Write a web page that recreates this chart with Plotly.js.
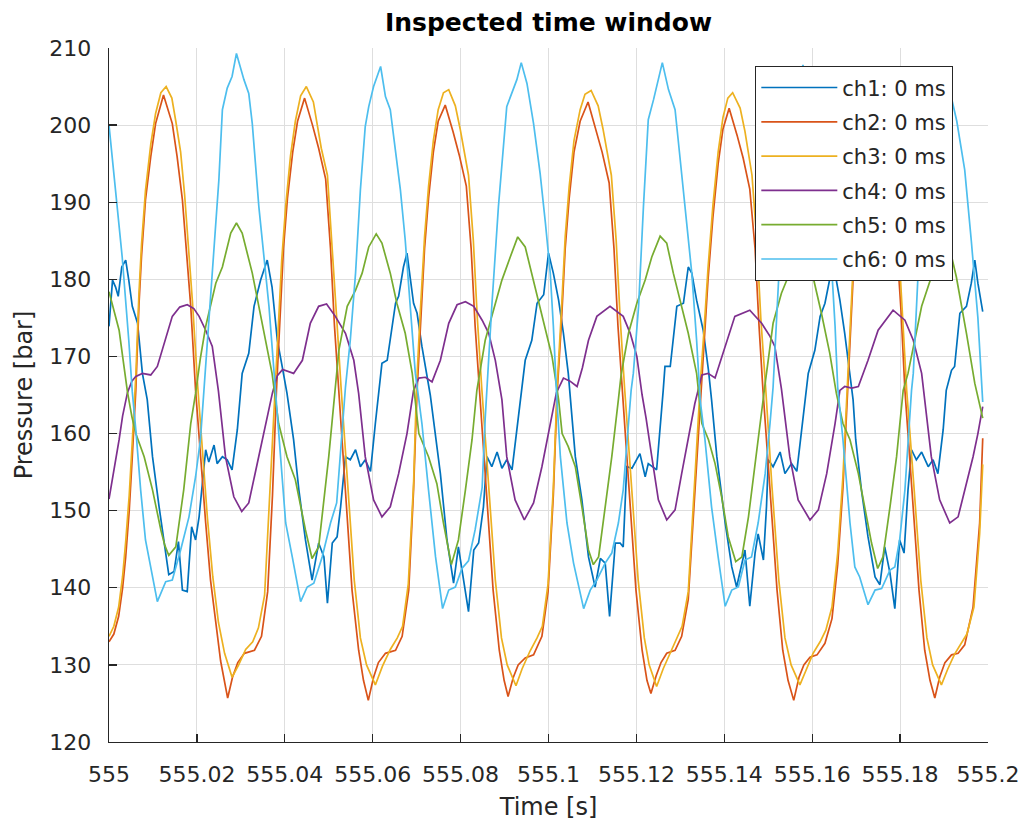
<!DOCTYPE html>
<html>
<head>
<meta charset="utf-8">
<script src="https://cdn.plot.ly/plotly-3.0.1.min.js"></script>
<style>html,body{margin:0;padding:0;background:#fff;} #chart{width:1029px;height:827px;}</style>
</head>
<body>
<div id="chart"></div>
<script>
// time axis origin (s); series times are given in ms after this origin
const T0 = 555;
const xTickVals = [555, 555.02, 555.04, 555.06, 555.08, 555.1, 555.12, 555.14, 555.16, 555.18, 555.2];
const xTickText = ['555', '555.02', '555.04', '555.06', '555.08', '555.1', '555.12', '555.14', '555.16', '555.18', '555.2'];
const yTickVals = [120, 130, 140, 150, 160, 170, 180, 190, 200, 210];
const seriesNames = ['ch1: 0 ms', 'ch2: 0 ms', 'ch3: 0 ms', 'ch4: 0 ms', 'ch5: 0 ms', 'ch6: 0 ms'];

const ch1_t = [0,0.8,1.5,2.1,2.9,3.8,4.5,5.3,6.5,7.6,8.7,9.9,11.4,12.9,13.6,14.8,15.8,16.7,17.8,18.8,19.7,20.5,21.2,22.0,22.7,23.9,24.6,25.8,26.9,28.0,29.2,29.9,30.3,31.8,33.0,34.5,36.0,37.1,38.3,39.4,40.5,42.0,43.2,44.7,46.2,47.7,48.9,49.7,50.8,51.9,52.7,53.8,54.9,56.1,57.2,58.3,59.5,60.6,61.4,62.1,63.3,64.0,65.2,65.9,67.0,67.8,68.6,69.3,70.1,71.2,73.1,75.4,76.9,78.4,79.5,80.7,81.8,83.0,84.1,85.2,86.0,87.1,88.3,89.4,90.5,91.7,92.8,94.0,94.7,96.2,97.4,98.9,100.0,101.1,102.3,103.4,104.5,106.1,107.6,109.1,110.6,111.8,112.9,113.9,115.2,116.3,117.0,117.8,119.0,120.8,122.0,122.7,124.6,126.1,126.5,127.7,129.2,130.7,131.8,132.6,133.7,135.2,136.4,137.1,138.3,140.2,141.7,142.8,144.0,144.7,145.8,147.0,147.7,148.9,149.6,150.0,151.1,152.7,153.8,155.3,156.5,157.6,158.7,159.1,160.6,161.8,162.9,164.4,165.2,166.3,167.4,168.6,169.3,169.9,171.2,172.7,174.3,175.4,176.5,177.7,178.8,179.9,180.9,181.8,182.6,183.7,184.9,186.4,187.5,188.6,189.8,190.5,191.7,192.4,193.6,195.1,196.2,197.0,197.7,198.8];
const ch1_p = [173.9,179.9,179.0,177.8,181.6,182.5,179.9,176.5,174.3,167.8,164.4,157.0,150.5,144.9,141.7,142.1,146.0,139.7,139.5,147.9,146.2,149.2,153.5,157.9,156.3,158.5,156.1,157.0,156.6,155.3,160.5,165.6,167.8,170.4,176.5,179.9,182.5,179.0,172.1,168.7,165.2,159.2,152.7,146.2,141.0,145.8,144.0,138.0,145.8,146.6,150.5,157.0,156.6,157.9,155.7,156.6,155.1,161.3,165.6,169.1,169.5,172.1,176.9,177.8,181.6,183.4,179.9,176.9,175.6,171.3,165.0,154.8,146.2,140.6,145.3,141.0,136.9,144.9,145.8,150.5,157.0,155.7,157.6,155.5,156.6,155.3,160.5,165.6,169.5,172.1,176.9,178.0,183.4,180.8,177.3,173.0,167.8,157.0,151.4,144.0,140.1,143.8,143.2,136.3,145.8,145.8,145.3,155.7,155.5,157.4,154.4,156.1,155.3,165.6,168.7,168.7,176.5,176.9,181.6,180.8,177.3,173.4,168.2,164.4,157.0,148.4,142.7,140.1,143.2,144.9,137.6,144.5,147.0,143.6,150.5,156.6,155.7,157.6,154.8,156.1,155.1,160.5,165.6,167.8,170.8,175.2,176.9,181.2,180.8,177.3,173.0,167.8,164.4,159.2,152.7,146.6,141.4,140.4,145.3,141.9,137.3,146.2,144.5,152.7,157.9,156.6,157.6,155.7,156.6,154.8,160.5,165.6,168.2,168.7,175.6,176.5,179.5,182.5,179.5,175.8];

const ch2_t = [0,1.1,2.2,3.1,3.8,4.6,5.3,6.1,6.8,7.4,8.3,9.5,10.6,12.4,14.4,15.5,16.7,18.6,19.7,20.8,22.0,23.1,24.3,25.4,27.0,28.1,29.3,30.8,33.1,34.7,36.1,37.2,38.1,38.8,39.7,40.6,41.8,42.9,44.5,46.3,47.7,49.3,50.4,51.3,52.3,53.8,55.3,56.8,57.9,59.0,60.2,61.3,62.9,65.2,66.7,68.2,69.3,70.1,70.8,71.8,72.7,73.8,74.9,76.5,78.3,79.7,81.3,82.4,83.3,84.3,85.8,87.4,88.8,89.9,90.8,92.0,93.1,94.7,96.6,98.5,99.9,101.1,102.0,102.9,103.8,104.7,105.8,107.2,109.0,110.8,112.2,113.8,114.9,115.8,116.8,118.3,119.9,121.3,122.4,123.3,124.5,125.6,126.9,128.8,130.3,131.8,132.7,133.6,134.7,135.4,136.3,137.4,138.6,139.7,141.1,142.9,144.3,145.8,147.0,147.9,148.8,150.4,152.0,153.3,154.5,155.8,157.0,158.1,159.5,161.1,162.9,164.5,165.8,167.0,167.9,168.6,169.3,170.2,171.3,172.2,173.6,175.4,176.8,178.3,179.3,180.2,181.1,182.7,184.3,185.6,186.8,187.9,189.0,190.2,191.7,193.2,194.7,196.6,198.1,198.8];
const ch2_p = [133.0,134.0,136.3,140.0,144.0,150.0,157.0,165.6,176.5,183.0,190.3,195.9,200.2,203.9,200.2,195.9,190.3,176.5,165.6,157.0,148.4,141.0,135.4,130.5,125.7,128.4,130.3,131.5,131.9,133.7,139.5,152.0,165.6,174.0,184.0,190.5,196.5,200.5,203.5,200.0,197.0,193.0,184.0,174.0,165.6,152.7,139.7,131.9,128.0,125.4,128.4,130.3,131.5,131.9,133.7,139.7,152.7,165.6,174.0,184.0,190.5,196.5,200.5,202.6,199.1,196.1,192.1,184.0,174.0,165.6,152.7,139.7,131.9,128.0,125.9,128.4,130.0,130.9,131.3,133.7,139.5,152.0,165.6,174.0,184.0,190.5,196.5,200.5,203.0,199.5,196.5,192.5,184.0,174.0,165.6,152.7,139.7,131.9,128.0,126.3,128.6,130.3,131.5,131.9,133.7,138.5,147.0,156.0,165.6,172.0,180.0,188.0,195.0,199.5,202.2,198.7,195.7,191.7,184.0,174.0,165.6,152.7,139.7,131.9,128.0,125.4,128.4,130.0,131.0,131.3,132.8,136.0,143.0,153.0,163.0,172.0,180.0,188.0,195.0,199.5,202.5,199.5,196.0,192.0,184.0,176.0,165.6,152.7,139.7,131.9,128.0,125.7,128.4,130.3,131.3,131.5,132.6,137.5,148.4,159.4];

const ch3_t = [0,1.1,2.2,3.1,3.8,4.6,5.3,6.1,6.8,7.4,8.3,9.5,10.6,11.8,13.0,14.3,15.2,16.3,17.2,19.0,20.2,21.3,22.4,23.6,24.9,26.3,28.0,29.5,31.1,32.7,34.0,35.4,36.5,37.7,38.3,39.3,40.2,41.3,42.4,43.6,44.9,46.5,47.4,48.3,49.7,50.8,51.8,52.8,54.3,55.8,57.2,58.6,60.6,62.2,64.0,65.6,66.8,68.1,69.3,70.0,70.8,71.8,72.7,73.8,74.9,76.1,77.3,78.8,79.9,81.8,82.9,83.8,84.8,86.3,87.9,89.3,90.6,92.6,94.0,95.8,97.4,98.6,99.9,101.1,102.0,102.9,103.8,104.7,105.8,107.2,108.3,109.7,111.3,112.4,114.3,115.4,116.3,117.3,118.8,120.4,121.8,122.9,124.6,126.1,127.9,129.3,130.4,131.8,132.7,133.6,134.6,135.4,136.3,137.4,138.6,139.7,140.8,141.9,143.6,144.7,146.3,147.4,148.3,149.4,150.8,152.4,153.8,155.2,157.2,158.6,160.2,161.8,163.1,164.5,165.8,167.0,167.9,168.6,169.3,170.2,171.3,172.2,173.1,174.3,175.8,177.2,178.6,179.7,180.6,181.5,183.1,184.7,186.1,187.4,189.4,190.8,192.4,194.0,195.2,196.8,198.1,198.8];
const ch3_p = [133.7,135.0,137.5,141.5,146.0,152.0,159.0,167.5,178.0,184.5,191.5,197.5,201.5,204.2,205.0,203.5,200.5,196.5,191.0,177.0,166.0,157.5,149.0,141.5,135.5,131.5,128.4,130.0,132.0,133.0,134.8,139.0,151.0,164.0,172.0,182.5,189.5,196.0,200.5,203.8,205.0,203.0,200.0,197.0,193.5,184.5,175.0,166.0,153.5,141.0,133.5,130.0,127.4,129.8,132.0,133.5,135.0,140.5,153.5,166.5,175.5,185.5,192.0,198.0,202.0,204.2,204.6,202.5,199.5,193.5,185.0,175.0,166.0,153.5,141.0,133.5,130.0,127.3,129.5,131.8,133.5,135.0,140.5,153.0,166.5,175.5,185.5,192.0,198.0,202.0,204.0,204.5,202.5,199.5,193.5,185.0,175.0,166.0,153.5,141.0,133.5,130.0,127.2,129.5,131.8,133.5,135.0,139.5,148.5,157.5,167.0,173.5,181.5,189.5,196.5,201.0,203.5,204.2,202.2,199.2,193.5,185.0,175.0,166.0,153.5,141.0,133.5,130.0,127.4,129.3,131.5,133.0,134.5,137.5,144.5,154.5,164.5,173.5,181.5,189.5,196.5,200.5,203.0,204.0,202.0,198.5,192.5,184.0,175.0,165.6,153.5,141.0,133.5,130.0,127.4,129.4,131.4,132.8,134.0,137.5,147.0,156.0];

const ch4_t = [0,1.1,2.3,3.1,4.2,5.2,6.1,7.6,9.5,11.0,12.5,14.4,16.1,17.8,19.3,20.5,22.0,23.5,24.9,26.5,28.4,30.2,31.8,34.1,36.0,37.2,38.3,39.5,42.0,44.0,45.8,47.7,49.5,51.5,53.8,55.7,56.8,58.3,60.2,62.1,64.0,65.9,67.8,69.3,70.5,72.0,73.5,75.4,77.3,79.2,81.1,83.0,84.9,86.4,87.9,89.4,90.5,92.4,94.5,96.6,98.5,100.4,101.8,103.4,104.9,106.5,107.7,109.1,111.0,114.0,117.0,118.6,120.1,121.3,122.2,123.5,125.0,126.9,128.8,130.3,131.8,133.3,134.9,136.3,137.9,140.2,142.4,145.8,148.5,150.4,151.5,153.0,154.9,156.8,159.5,161.4,163.3,165.2,166.3,167.4,169.0,170.5,172.7,175.0,178.4,181.1,183.0,184.9,185.6,187.1,189.0,191.3,193.2,195.1,196.6,197.7,198.8];
const ch4_p = [151.5,155.0,159.2,162.3,165.3,166.8,167.4,167.8,167.6,168.7,171.7,175.2,176.4,176.7,176.2,175.2,173.4,171.3,165.5,157.0,151.8,149.9,151.0,157.0,162.2,165.3,167.5,168.3,167.8,169.5,174.3,176.5,176.8,175.2,173.0,169.5,165.2,157.0,151.4,149.2,150.5,154.8,160.0,165.6,167.2,167.3,166.7,169.5,174.3,176.7,177.1,176.5,174.7,173.0,169.5,164.4,157.0,151.4,148.8,151.0,155.7,161.3,165.3,167.2,166.8,166.1,168.5,172.1,175.2,176.5,175.2,173.0,170.0,165.0,162.0,157.0,151.4,148.8,150.1,154.8,159.2,163.9,167.6,167.8,167.2,171.3,175.2,176.0,174.3,172.6,171.3,165.8,157.0,151.4,148.8,150.1,154.8,161.3,165.6,166.1,165.9,166.1,169.5,173.4,176.0,174.7,172.1,167.8,164.4,157.0,151.4,148.4,149.2,153.5,157.0,160.0,163.5];

const ch5_t = [0,1.1,2.3,3.1,4.2,5.2,6.1,8.0,9.9,11.8,12.7,13.6,15.2,17.0,18.6,19.7,20.8,22.0,24.3,25.8,27.7,29.0,30.3,32.6,34.9,37.1,38.6,40.5,42.4,44.7,46.2,47.7,50.0,51.1,52.3,54.2,56.1,57.6,59.1,60.8,62.1,64.0,65.5,67.4,69.0,70.5,72.7,74.6,76.1,77.9,79.5,81.1,82.6,83.7,85.6,87.1,89.4,91.3,93.0,94.7,96.2,98.1,100.0,100.8,102.3,103.1,104.5,106.1,107.6,109.1,110.2,111.4,112.9,114.4,115.9,116.5,118.2,120.1,122.0,123.5,125.4,126.9,128.4,129.9,131.8,133.7,134.9,136.4,137.9,139.4,140.9,142.6,144.0,145.5,147.0,148.5,149.3,151.1,153.0,154.5,156.1,157.7,159.0,160.2,162.1,164.0,165.5,167.0,168.6,170.5,172.0,173.5,174.9,176.1,177.7,179.2,180.7,181.8,184.9,187.1,188.6,189.9,191.3,192.8,195.1,197.0,198.8];
const ch5_p = [178.4,176.0,173.4,170.0,165.4,162.2,160.0,157.0,152.7,147.5,145.5,144.2,145.3,152.7,161.3,165.2,169.8,173.9,179.5,181.6,186.0,187.3,186.0,180.8,174.3,167.8,161.3,157.0,154.0,147.5,143.8,145.3,157.0,164.0,170.8,176.5,178.6,180.8,184.2,185.9,184.7,180.8,176.9,173.0,167.8,160.0,157.0,153.5,148.4,143.0,146.2,152.7,159.2,165.6,172.1,175.2,179.9,182.9,185.5,184.2,180.8,176.5,172.1,170.0,164.4,160.0,158.3,155.7,150.5,144.9,143.0,144.0,150.5,157.0,164.4,167.5,173.0,176.9,179.9,182.9,185.6,184.7,180.8,177.3,173.0,167.8,161.3,159.2,156.1,151.8,146.6,143.4,144.0,149.2,156.1,163.5,166.5,174.3,178.2,180.3,183.5,185.5,184.0,180.3,175.6,170.4,165.2,161.3,159.2,154.8,150.5,145.8,142.5,144.0,150.5,157.0,165.6,167.8,176.5,180.3,183.5,185.4,184.0,180.3,173.0,166.5,162.0];

const ch6_t = [0,1.5,3.0,4.5,5.3,6.1,7.2,8.3,9.9,11.0,12.9,14.4,16.3,18.2,19.7,20.8,21.6,23.5,25.0,25.8,26.9,28.0,29.0,30.7,31.8,32.6,34.1,36.4,37.9,38.6,40.2,41.7,43.6,45.1,46.6,48.5,50.4,51.8,52.9,53.8,54.9,56.1,57.2,58.3,59.1,60.2,61.8,62.9,64.0,65.2,66.3,67.4,68.6,69.7,70.5,71.2,72.7,74.3,75.9,77.3,78.8,80.3,81.8,83.3,84.9,85.6,87.1,88.6,90.5,91.7,92.8,93.8,95.1,96.6,98.1,99.3,100.4,101.1,101.9,102.7,104.2,105.7,108.0,109.5,111.0,112.9,114.4,115.9,117.0,118.2,118.8,119.3,120.5,121.6,122.7,123.9,125.0,125.9,127.3,128.8,129.9,131.1,132.6,133.7,134.5,135.6,137.1,138.6,140.2,141.7,143.2,144.7,146.2,147.7,149.3,150.4,151.1,152.0,153.1,154.5,155.6,156.8,157.9,159.3,160.6,162.2,163.3,164.5,165.2,165.8,167.0,168.6,169.7,170.8,172.7,174.3,175.8,177.7,178.8,179.9,181.1,181.8,182.6,183.0,184.1,185.2,186.5,187.7,188.8,190.2,191.5,192.9,194.7,196.2,197.7,198.8];
const ch6_p = [200.0,191.6,182.9,172.1,165.4,160.5,152.7,146.2,141.4,138.2,140.8,141.0,144.9,149.2,154.4,159.2,165.6,180.8,192.9,202.0,204.8,206.3,209.3,205.9,204.1,200.2,189.4,176.5,165.2,159.2,148.4,144.0,138.2,140.1,140.6,144.0,148.4,151.0,160.0,166.0,172.1,180.8,191.6,199.8,202.4,205.0,207.6,203.7,202.0,196.8,191.6,185.1,176.5,167.8,164.4,161.3,152.7,144.0,137.3,139.7,140.1,142.5,143.5,147.5,153.0,162.0,176.5,189.4,202.4,204.1,205.9,208.1,205.4,200.2,193.7,187.3,180.8,174.0,164.4,157.0,148.4,143.2,137.3,139.7,141.0,143.2,144.5,148.4,152.7,161.3,165.6,167.8,176.5,189.4,200.7,203.3,205.9,208.1,204.6,202.0,195.9,189.4,180.8,172.1,164.4,159.2,150.5,144.0,137.6,139.7,140.1,143.6,144.0,148.4,154.8,161.3,166.0,176.0,188.0,199.0,203.0,205.5,207.8,204.8,200.5,193.5,187.3,180.8,174.0,166.0,159.2,148.4,142.7,141.4,137.8,139.7,139.9,142.3,142.7,146.2,152.7,159.2,165.6,167.8,180.8,189.0,198.5,202.5,204.5,206.5,204.0,200.5,194.2,185.0,175.0,164.1];

const seriesColors = ['#0072BD', '#D95319', '#EDB120', '#7E2F8E', '#77AC30', '#4DBEEE'];
const seriesT = [ch1_t, ch2_t, ch3_t, ch4_t, ch5_t, ch6_t];
const seriesP = [ch1_p, ch2_p, ch3_p, ch4_p, ch5_p, ch6_p];

const traces = seriesNames.map((name, i) => ({
  type: 'scatter',
  mode: 'lines',
  name: name,
  legendgroup: name,
  x: seriesT[i].map(ms => T0 + ms / 1000),
  y: seriesP[i],
  line: { color: seriesColors[i], width: 1.7 },
  hoverinfo: 'skip'
}));

const axisCommon = {
  showgrid: true, gridcolor: '#dedede', gridwidth: 1,
  showline: true, linecolor: '#262626', linewidth: 1.3,
  ticks: 'inside', ticklen: 8, tickwidth: 1.3, tickcolor: '#262626',
  zeroline: false, automargin: false,
  tickfont: { family: 'DejaVu Sans', size: 22, color: '#262626' }
};

const layout = {
  width: 1029, height: 827,
  margin: { l: 109, r: 41, t: 48, b: 85, pad: 0 },
  paper_bgcolor: '#ffffff', plot_bgcolor: '#ffffff',
  font: { family: 'DejaVu Sans', color: '#262626', size: 22 },
  title: {
    text: 'Inspected time window',
    font: { family: 'DejaVu Sans', size: 25, color: '#000000', weight: 'bold' },
    x: 0.5, xref: 'paper', xanchor: 'center',
    y: 1 - 22 / 827, yref: 'container', yanchor: 'middle'
  },
  xaxis: Object.assign({}, axisCommon, {
    range: [555, 555.2], tickmode: 'array', tickvals: xTickVals, ticktext: xTickText,
    ticklabelstandoff: 12,
    title: { text: 'Time [s]', font: { family: 'DejaVu Sans', size: 24, color: '#262626' }, standoff: 12 }
  }),
  yaxis: Object.assign({}, axisCommon, {
    range: [120, 210], tickmode: 'array', tickvals: yTickVals,
    ticklabelstandoff: 12,
    title: { text: 'Pressure [bar]', font: { family: 'DejaVu Sans', size: 24, color: '#262626' }, standoff: 10 }
  }),
  showlegend: true,
  legend: {
    x: 0.9602, xanchor: 'right', y: 0.974, yanchor: 'top',
    bgcolor: '#ffffff', bordercolor: '#262626', borderwidth: 1.3,
    font: { family: 'DejaVu Sans', size: 21, color: '#262626' },
    itemwidth: 76, traceorder: 'grouped', tracegroupgap: 4
  }
};

Plotly.newPlot('chart', traces, layout, { staticPlot: true, displayModeBar: false });
</script>
</body>
</html>
